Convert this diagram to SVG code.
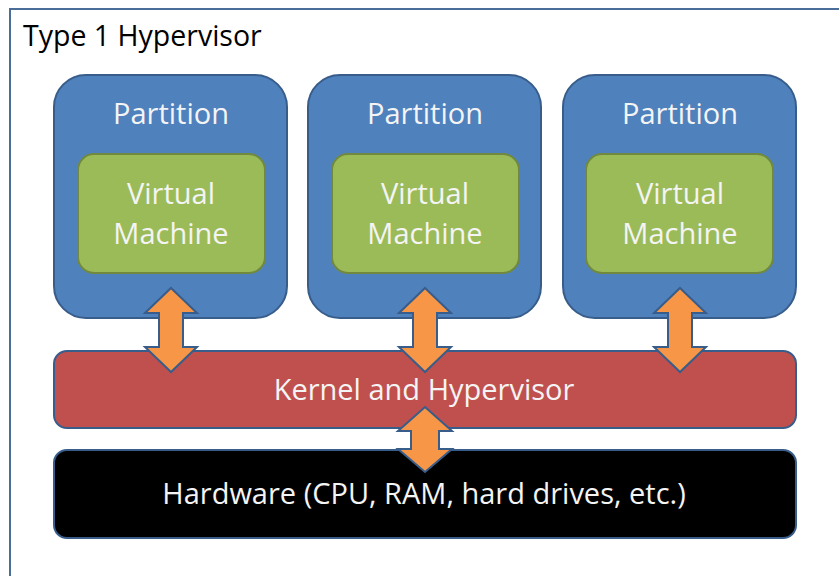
<svg xmlns="http://www.w3.org/2000/svg" width="839" height="576" viewBox="0 0 839 576">
<defs>
<style>
.frame{fill:#fff;stroke:#4a6d99;stroke-width:2}
.part{fill:#4f81bd;stroke:#385d8a;stroke-width:2}
.vm{fill:#9bbb59;stroke:#71893f;stroke-width:2}
.kern{fill:#c0504d;stroke:#385d8a;stroke-width:2}
.hw{fill:#000;stroke:#385d8a;stroke-width:2}
.arrow{fill:#f79646;stroke:#385d8a;stroke-width:2;stroke-linejoin:miter}
.t{font-family:"Open Sans","Liberation Sans",sans-serif;fill:#f4f4f4;text-anchor:middle;font-size:29px}
.title{font-family:"Open Sans","Liberation Sans",sans-serif;fill:#000;font-size:28.5px}
</style>
</defs>
<rect class="frame" x="10" y="9" width="900" height="600"/>
<text class="title" x="23" y="46">Type 1 Hypervisor</text>
<g id="partition1">
<rect class="part" x="54" y="75" width="233" height="243" rx="32"/>
<text class="t" x="171" y="124">Partition</text>
</g>
<g id="vm1">
<rect class="vm" x="78" y="154" width="187" height="119" rx="16"/>
<text class="t" x="171" y="204">Virtual</text>
<text class="t" x="171" y="244">Machine</text>
</g>
<g id="partition2">
<rect class="part" x="308" y="75" width="233" height="243" rx="32"/>
<text class="t" x="425" y="124">Partition</text>
</g>
<g id="vm2">
<rect class="vm" x="332" y="154" width="187" height="119" rx="16"/>
<text class="t" x="425" y="204">Virtual</text>
<text class="t" x="425" y="244">Machine</text>
</g>
<g id="partition3">
<rect class="part" x="563" y="75" width="233" height="243" rx="32"/>
<text class="t" x="680" y="124">Partition</text>
</g>
<g id="vm3">
<rect class="vm" x="586" y="154" width="187" height="119" rx="16"/>
<text class="t" x="680" y="204">Virtual</text>
<text class="t" x="680" y="244">Machine</text>
</g>
<g id="kernel">
<rect class="kern" x="54" y="351" width="742" height="77" rx="13"/>
<text class="t" x="424" y="400">Kernel and Hypervisor</text>
</g>
<g id="hardware">
<rect class="hw" x="54" y="450" width="742" height="88" rx="13"/>
<text class="t" x="424" y="504">Hardware (CPU, RAM, hard drives, etc.)</text>
</g>
<g id="connectors">
<path class="arrow" d="M171,288 L197,313 L183,313 L183,347 L197,347 L171,372 L145,347 L159,347 L159,313 L145,313 Z"/>
<path class="arrow" d="M425,288 L451,313 L437,313 L437,347 L451,347 L425,372 L399,347 L413,347 L413,313 L399,313 Z"/>
<path class="arrow" d="M680,288 L706,313 L692,313 L692,347 L706,347 L680,372 L654,347 L668,347 L668,313 L654,313 Z"/>
<path class="arrow" d="M425,407 L452,431 L439,431 L439,449 L452,449 L425,472 L398,449 L411,449 L411,431 L398,431 Z"/>
</g>
</svg>
